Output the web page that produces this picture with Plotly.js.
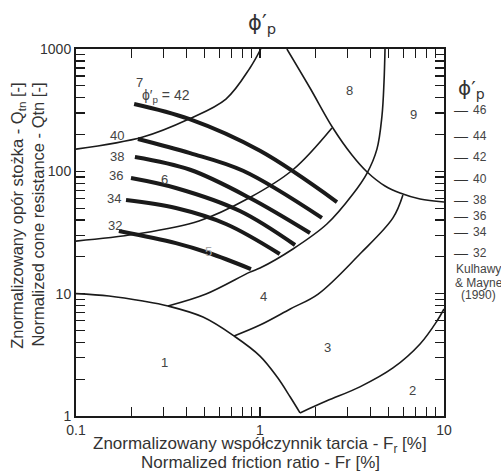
<!DOCTYPE html>
<html>
<head>
<meta charset="utf-8">
<script src="https://cdn.plot.ly/plotly-3.0.1.min.js"></script>
<style>html,body{margin:0;padding:0;background:#fff;}#chart{width:501px;height:474px;}</style>
</head>
<body>
<div id="chart"></div>
<script>
// ---- Soil behaviour type zone boundaries (Fr [%], Qtn [-]) ----
const zone1BoundX = [0.1, 0.151, 0.231, 0.316, 0.49, 0.723, 1.0, 1.24, 1.46, 1.65];
const zone1BoundY = [10, 9.57, 8.71, 7.93, 6.44, 4.51, 3.09, 2.08, 1.43, 1.06];
const zone23X = [1.65, 2.31, 3.49, 5.28, 7.41, 9.16, 10];
const zone23Y = [1.06, 1.33, 1.73, 2.47, 3.88, 5.98, 7.5];
const zone34X = [0.723, 1.0, 1.46, 2.07, 3.49, 5.28, 5.98];
const zone34Y = [4.51, 5.54, 7.5, 9.93, 21.1, 41.6, 64];
const zone45X = [0.316, 0.509, 0.882, 1.0, 1.51, 2.31, 3.20, 3.82, 4.32, 4.60, 4.72, 4.78];
const zone45Y = [7.93, 9.93, 15.0, 16.2, 23.2, 37.1, 65.3, 96.9, 152, 283, 537, 1000];
const zone56X = [0.1, 0.212, 0.466, 0.871, 1.51, 2.46];
const zone56Y = [26.9, 30.7, 39.3, 60.5, 103, 226];
const zone67X = [0.1, 0.231, 0.411, 0.653, 0.882, 1.01];
const zone67Y = [152, 191, 268, 390, 700, 1000];
const zone8X = [1.40, 1.87, 2.49, 3.16, 3.82, 4.78, 5.77, 7.41, 10];
const zone8Y = [1000, 480, 226, 136, 98.8, 75.9, 66.5, 59.4, 56.1];

// ---- Peak friction angle contours ----
const phiValues = [42, 40, 38, 36, 34, 32];
const phi42X = [0.207, 0.411, 1.0, 2.62];  const phi42Y = [355, 268, 147, 56.1];
const phi40X = [0.217, 0.417, 0.809, 2.17]; const phi40Y = [184, 141, 101, 41.6];
const phi38X = [0.209, 0.417, 0.882, 1.87]; const phi38Y = [131, 103, 60.5, 31.3];
const phi36X = [0.199, 0.349, 0.778, 1.55]; const phi36Y = [88.2, 73.1, 47.4, 25.0];
const phi34X = [0.187, 0.349, 0.653, 1.28]; const phi34Y = [58.3, 50.1, 37.1, 21.1];
const phi32X = [0.171, 0.349, 0.528, 0.893]; const phi32Y = [32.5, 25.9, 21.5, 15.9];
const phiLabelX = [0.167, 0.167, 0.165, 0.161, 0.163];
const phiLabelY = [198, 133, 93.3, 60.5, 36.4];

// ---- Zone number labels ----
const zoneNames = ['1','2','3','4','5','6','7','8','9'];
const zoneLabelX = [0.301, 6.70, 2.34, 1.04, 0.528, 0.301, 0.220, 3.05, 6.79];
const zoneLabelY = [2.76, 1.63, 3.60, 9.4, 22.3, 86.5, 537, 462, 294];

// ---- Kulhawy & Mayne scale (right side) ----
const phiScale = [46, 44, 42, 40, 38, 36, 34, 32];
const phiScaleQtn = [317, 195, 131, 86.5, 58.3, 43.2, 31.9, 21.5];
const sourceLines = ['Kulhawy', '& Mayne', '(1990)'];

// ---- Axis ticks ----
const xTickVals = [0.1,0.2,0.3,0.4,0.5,0.6,0.7,0.8,0.9,1,2,3,4,5,6,7,8,9,10];
const xTickText = ['0.1','','','','','','','','','1','','','','','','','','','10'];
const yTickVals = [1,2,3,4,5,6,7,8,9,10,20,30,40,50,60,70,80,90,100,200,300,400,500,600,700,800,900,1000];
const yTickText = ['1','','','','','','','','','10','','','','','','','','','100','','','','','','','','','1000'];

const FONT = 'Liberation Sans, Arial, Helvetica, sans-serif';
const TXT = '#333';
const LINE = '#1a1a1a';

const thin = (x, y) => ({x: x, y: y, type: 'scatter', mode: 'lines',
  line: {color: LINE, width: 1.6, shape: 'spline', smoothing: 1}, hoverinfo: 'skip'});
const thick = (x, y) => ({x: x, y: y, type: 'scatter', mode: 'lines',
  line: {color: LINE, width: 4, shape: 'spline', smoothing: 1}, hoverinfo: 'skip'});

const traces = [
  thin(zone1BoundX, zone1BoundY), thin(zone23X, zone23Y), thin(zone34X, zone34Y),
  thin(zone45X, zone45Y), thin(zone56X, zone56Y), thin(zone67X, zone67Y), thin(zone8X, zone8Y),
  thick(phi42X, phi42Y), thick(phi40X, phi40Y), thick(phi38X, phi38Y),
  thick(phi36X, phi36Y), thick(phi34X, phi34Y), thick(phi32X, phi32Y)
];

const L = Math.log10;
const annotations = [];
zoneNames.forEach((n, i) => annotations.push({
  x: L(zoneLabelX[i]), y: L(zoneLabelY[i]), xref: 'x', yref: 'y', text: n, showarrow: false,
  xanchor: 'center', yanchor: 'middle',
  font: {family: FONT, size: 13, color: n === '5' ? '#aaa' : '#444'}
}));
phiValues.slice(1).forEach((v, i) => annotations.push({
  x: L(phiLabelX[i]), y: L(phiLabelY[i]), xref: 'x', yref: 'y', text: String(v), showarrow: false,
  xanchor: 'center', yanchor: 'middle', font: {family: FONT, size: 13, color: '#444'}
}));
annotations.push({x: L(0.308), y: L(413), xref: 'x', yref: 'y', showarrow: false,
  xanchor: 'center', yanchor: 'middle',
  text: 'ϕ\u2032<sub>p</sub> = ' + phiValues[0], font: {family: FONT, size: 14, color: '#444'}});

phiScale.forEach((v, i) => {
  annotations.push({x: 1.046, y: L(phiScaleQtn[i]), xref: 'paper', yref: 'y', text: '—',
    showarrow: false, xanchor: 'center', yanchor: 'middle', font: {family: FONT, size: 14, color: '#333'}});
  annotations.push({x: 1.074, y: L(phiScaleQtn[i]), xref: 'paper', yref: 'y', text: String(v),
    showarrow: false, xanchor: 'left', yanchor: 'middle', font: {family: FONT, size: 12, color: '#444'}});
});
annotations.push({x: 1.076, y: 0.891, xref: 'paper', yref: 'paper', showarrow: false,
  xanchor: 'center', yanchor: 'middle',
  text: 'ϕ\u2032<sub>p</sub>', font: {family: 'DejaVu Sans, sans-serif', size: 20, color: '#333'}});
const sourceY = [0.401, 0.363, 0.329];
sourceLines.forEach((t, i) => annotations.push({x: 1.095, y: sourceY[i], xref: 'paper', yref: 'paper',
  showarrow: false, xanchor: 'center', yanchor: 'middle', text: t,
  font: {family: FONT, size: 12, color: '#444'}}));

// axis titles
annotations.push({x: -0.158, y: 0.545, xref: 'paper', yref: 'paper', showarrow: false, textangle: -90,
  xanchor: 'center', yanchor: 'middle',
  text: 'Znormalizowany opór stożka - Q<sub>tn</sub> [-]', font: {family: FONT, size: 16.5, color: TXT}});
annotations.push({x: -0.104, y: 0.548, xref: 'paper', yref: 'paper', showarrow: false, textangle: -90,
  xanchor: 'center', yanchor: 'middle',
  text: 'Normalized cone resistance - Qtn [-]', font: {family: FONT, size: 16.5, color: TXT}});
annotations.push({x: 0.5, y: -0.078, xref: 'paper', yref: 'paper', showarrow: false,
  xanchor: 'center', yanchor: 'middle',
  text: 'Znormalizowany współczynnik tarcia - F<sub>r</sub> [%]', font: {family: FONT, size: 17, color: TXT}});
annotations.push({x: 0.5, y: -0.127, xref: 'paper', yref: 'paper', showarrow: false,
  xanchor: 'center', yanchor: 'middle',
  text: 'Normalized friction ratio - Fr [%]', font: {family: FONT, size: 17, color: TXT}});

const axisCommon = {
  type: 'log', showgrid: false, zeroline: false, ticks: 'inside', ticklen: 9, tickwidth: 1.3,
  tickcolor: LINE, showline: true, linecolor: LINE, linewidth: 2, mirror: 'ticks',
  tickfont: {family: FONT, size: 14, color: TXT}, tickmode: 'array'
};

const layout = {
  width: 501, height: 474,
  margin: {l: 76, r: 57, t: 49, b: 58},
  paper_bgcolor: '#fff', plot_bgcolor: '#fff', showlegend: false,
  title: {text: 'ϕ\u2032<sub>p</sub>', x: 0.523, xanchor: 'center', y: 0.953, yanchor: 'middle',
    font: {family: 'DejaVu Sans, sans-serif', size: 21, color: '#333'}},
  xaxis: Object.assign({}, axisCommon, {range: [-1, 1], tickvals: xTickVals, ticktext: xTickText}),
  yaxis: Object.assign({}, axisCommon, {range: [0, 3], tickvals: yTickVals, ticktext: yTickText}),
  annotations: annotations
};

Plotly.newPlot('chart', traces, layout, {staticPlot: true, displayModeBar: false});
</script>
</body>
</html>
